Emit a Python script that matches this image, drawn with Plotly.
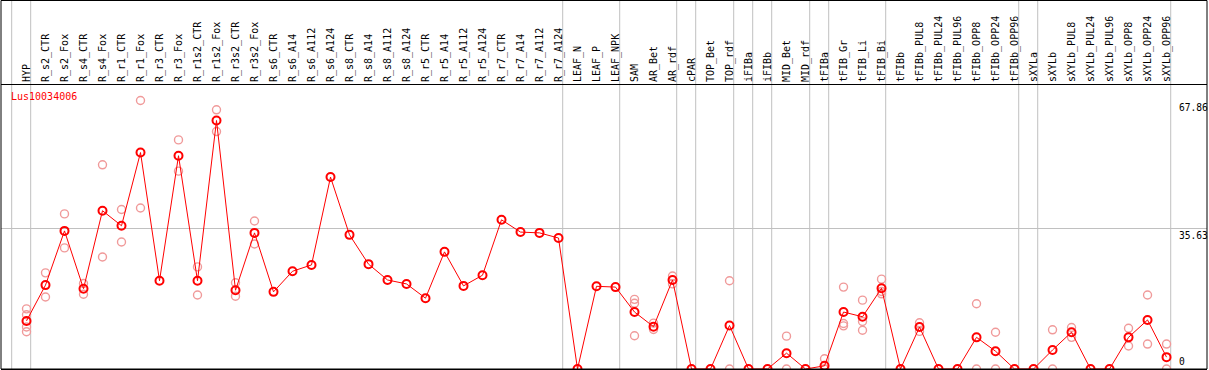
import plotly.graph_objects as go

categories = ["HYP", "R_s2_CTR", "R_s2_Fox", "R_s4_CTR", "R_s4_Fox", "R_r1_CTR", "R_r1_Fox",
              "R_r3_CTR", "R_r3_Fox", "R_r1s2_CTR", "R_r1s2_Fox", "R_r3s2_CTR", "R_r3s2_Fox",
              "R_s6_CTR", "R_s6_A14", "R_s6_A112", "R_s6_A124", "R_s8_CTR", "R_s8_A14",
              "R_s8_A112", "R_s8_A124", "R_r5_CTR", "R_r5_A14", "R_r5_A112", "R_r5_A124",
              "R_r7_CTR", "R_r7_A14", "R_r7_A112", "R_r7_A124", "LEAF_N", "LEAF_P", "LEAF_NPK",
              "SAM", "AR_Bet", "AR_rdf", "cPAR", "TOP_Bet", "TOP_rdf", "iFIBa", "iFIBb",
              "MID_Bet", "MID_rdf", "tFIBa", "tFIB_Gr", "tFIB_Li", "tFIB_Bi", "tFIBb",
              "tFIBb_PUL8", "tFIBb_PUL24", "tFIBb_PUL96", "tFIBb_OPP8", "tFIBb_OPP24",
              "tFIBb_OPP96", "sXYLa", "sXYLb", "sXYLb_PUL8", "sXYLb_PUL24", "sXYLb_PUL96",
              "sXYLb_OPP8", "sXYLb_OPP24", "sXYLb_OPP96"]

mean_values = [12.15, 21.2, 34.9, 20.3, 40.0, 36.2, 54.7, 22.3, 53.9, 22.3, 62.8, 19.9, 34.4,
               19.5, 24.7, 26.3, 48.5, 33.9, 26.5, 22.5, 21.5, 17.9, 29.6, 21.0, 23.7,
               37.7, 34.6, 34.4, 33.1, 0, 20.9, 20.7,
               14.4, 10.7, 22.5, 0, 0, 11.0, 0, 0,
               4.0, 0, 0.8, 14.4, 13.2, 20.4, 0,
               10.6, 0, 0, 8.0, 4.5,
               0, 0, 4.8, 9.3, 0, 0,
               8.0, 12.4, 3.0]

rep_categories = ["HYP", "HYP", "HYP", "HYP",
                  "R_s2_CTR", "R_s2_CTR", "R_s2_Fox", "R_s2_Fox", "R_s4_CTR", "R_s4_CTR",
                  "R_s4_Fox", "R_s4_Fox", "R_r1_CTR", "R_r1_CTR", "R_r1_Fox", "R_r1_Fox",
                  "R_r3_Fox", "R_r3_Fox", "R_r1s2_CTR", "R_r1s2_CTR", "R_r1s2_Fox", "R_r1s2_Fox",
                  "R_r3s2_CTR", "R_r3s2_CTR", "R_r3s2_Fox", "R_r3s2_Fox",
                  "SAM", "SAM", "SAM", "AR_Bet", "AR_Bet", "AR_rdf", "AR_rdf",
                  "TOP_rdf", "TOP_rdf", "MID_Bet", "MID_Bet", "tFIBa", "tFIBa", "tFIBa",
                  "tFIB_Gr", "tFIB_Gr", "tFIB_Gr", "tFIB_Li", "tFIB_Li", "tFIB_Li",
                  "tFIB_Bi", "tFIB_Bi", "tFIB_Bi", "tFIBb_PUL8", "tFIBb_PUL8",
                  "tFIBb_OPP8", "tFIBb_OPP8", "tFIBb_OPP24", "tFIBb_OPP24",
                  "sXYLb", "sXYLb", "sXYLb_PUL8", "sXYLb_PUL8", "sXYLb_OPP8", "sXYLb_OPP8",
                  "sXYLb_OPP24", "sXYLb_OPP24", "sXYLb_OPP96", "sXYLb_OPP96"]
rep_values = [15.2, 13.7, 10.6, 9.4,
              24.3, 18.2, 39.2, 30.6, 21.6, 18.9,
              51.6, 28.3, 40.3, 32.1, 67.86, 40.7,
              57.9, 50.0, 25.8, 18.7, 65.5, 60.0,
              21.8, 18.4, 37.4, 31.6,
              17.6, 16.6, 8.4, 11.6, 10.0, 23.5, 21.5,
              22.3, 0, 8.3, 0, 2.6, 0, 0,
              20.7, 11.5, 10.9, 17.4, 12.0, 9.8,
              22.7, 19.6, 19.0, 11.7, 9.5,
              16.5, 0, 9.3, 0,
              9.9, 0, 10.5, 8.0, 10.3, 5.8,
              18.7, 6.3, 6.3, 0]

group_ends = ["HYP", "R_r7_A124", "LEAF_NPK", "AR_rdf", "cPAR", "TOP_rdf", "iFIBa", "iFIBb",
              "MID_rdf", "tFIBa", "tFIB_Bi", "tFIBb_OPP96", "sXYLa", "sXYLb_OPP96"]

y_labels = ["67.86", "35.63", "0"]
y_label_values = [67.86, 35.63, 0]
gene_name = "Lus10034006"

W, H = 1209, 370
ML, MR, MT, MB = 1, 2, 85, 1
plot_h = H - MT - MB
plot_w = W - ML - MR
top_paper = (H - MB - 0.5) / plot_h

mono = "DejaVu Sans Mono"

fig = go.Figure()
fig.add_trace(go.Scatter(
    x=rep_categories, y=rep_values, mode="markers",
    marker=dict(symbol="circle-open", size=8, color="#f09a9a", line=dict(width=1.4)),
    showlegend=False, hoverinfo="x+y"))
fig.add_trace(go.Scatter(
    x=categories, y=mean_values, mode="lines+markers",
    line=dict(color="#ff0000", width=1),
    marker=dict(symbol="circle-open", size=8, color="#ff0000", line=dict(width=2)),
    showlegend=False))

shapes = []
sep_positions = [-1] + [categories.index(c) for c in group_ends]
for p in sep_positions:
    shapes.append(dict(type="line", xref="x", yref="paper", x0=p + 0.22, x1=p + 0.22,
                       y0=0, y1=top_paper, line=dict(color="#c0c0c0", width=1), layer="below"))
shapes.append(dict(type="rect", xref="paper", yref="paper", x0=0, x1=1, y0=0, y1=top_paper,
                   line=dict(color="black", width=1)))

annotations = [dict(text=gene_name, xref="paper", yref="paper", x=8 / plot_w,
                    y=1 - 12 / plot_h, xanchor="left", yanchor="middle", showarrow=False,
                    font=dict(family=mono, size=10, color="#ff0000"))]
for txt, v in zip(y_labels, y_label_values):
    annotations.append(dict(text=txt, xref="paper", yref="y",
                            x=(1177 - ML) / plot_w, y=v, xanchor="left",
                            yanchor="bottom" if v == 0 else "top", showarrow=False,
                            font=dict(family=mono, size=9.6, color="black")))

fig.update_layout(
    width=W, height=H, margin=dict(l=ML, r=MR, t=MT, b=MB, pad=0),
    paper_bgcolor="white", plot_bgcolor="white",
    shapes=shapes, annotations=annotations,
    xaxis=dict(type="category", categoryorder="array", categoryarray=categories,
               side="top", tickangle=-90, ticks="", showgrid=False, zeroline=False,
               range=[-1.342, 62.13], showline=True, mirror=True, linecolor="black",
               linewidth=1, tickfont=dict(family=mono, size=10, color="black")),
    yaxis=dict(range=[0, 71.77], tickvals=[35.63], showticklabels=False, ticks="",
               showgrid=True, gridcolor="#c0c0c0", gridwidth=1, zeroline=False,
               showline=False),
)

fig.write_html("out.html", config={"displayModeBar": False},
               post_script="document.body.style.margin='0';")
